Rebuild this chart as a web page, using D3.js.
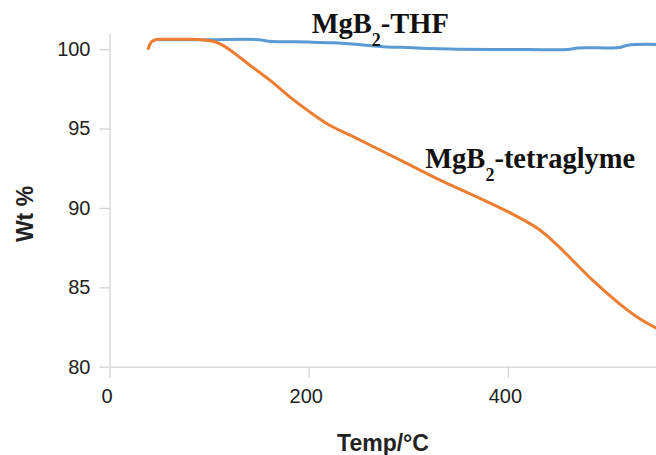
<!DOCTYPE html>
<html>
<head>
<meta charset="utf-8">
<script src="https://cdn.jsdelivr.net/npm/d3@7"></script>
<style>
  body { margin: 0; background: #fff; }
  .axis path, .axis line { stroke: #d4d4d4; stroke-width: 1.3px; }
  .axis text { font-family: "Liberation Sans", Arial, sans-serif; font-size: 20px; fill: #222; }
  .title { font-family: "Liberation Sans", Arial, sans-serif; font-size: 23px; font-weight: bold; fill: #222; }
  .note { font-family: "Liberation Serif", "Times New Roman", serif; font-size: 28.5px; font-weight: bold; fill: #111; }
</style>
</head>
<body>
<div id="chart"></div>
<script>
// TGA curves (temperature in °C, weight in %)
const thfTemp = [50, 60, 100, 150, 160, 200, 225, 250, 275, 300, 320, 350, 382, 420, 460, 470, 500, 512, 520, 549];
const thfWt   = [100.6, 100.6, 100.6, 100.6, 100.5, 100.45, 100.4, 100.3, 100.15, 100.1, 100.05, 100.0, 99.98, 99.98, 99.98, 100.08, 100.08, 100.1, 100.25, 100.3];

const tglTemp = [39, 42, 47, 60, 80, 95, 105, 113, 121, 141, 161, 181, 201, 221, 241, 262, 292, 332, 372, 405, 430, 448, 465, 485, 510, 530, 549];
const tglWt   = [100.04, 100.45, 100.61, 100.62, 100.62, 100.58, 100.48, 100.27, 99.95, 98.99, 98.05, 97.0, 96.05, 95.21, 94.6, 93.95, 93.01, 91.75, 90.6, 89.6, 88.7, 87.75, 86.7, 85.45, 84.07, 83.12, 82.43];

const xTicks = [0, 200, 400];
const yTicks = [80, 85, 90, 95, 100];

const notes = [
  { pre: "MgB", sub: "2", post: "-THF", t: 203, w: 101.0 },
  { pre: "MgB", sub: "2", post: "-tetraglyme", t: 317, w: 92.49 }
];

const width = 656, height = 455;
const plotLeft = 109.5, plotTop = 33.3, plotBottom = 366.7;

const svg = d3.select("#chart").append("svg")
  .attr("width", width).attr("height", height);

const x = d3.scaleLinear().domain([0, 549]).range([plotLeft, plotLeft + 549 * 0.996]);
const y = d3.scaleLinear().domain([80, 101]).range([plotBottom, plotTop]);

svg.append("defs").append("clipPath").attr("id", "plot")
  .append("rect").attr("x", plotLeft).attr("y", 0).attr("width", width - plotLeft).attr("height", plotBottom);

// axes
svg.append("g").attr("class", "axis")
  .attr("transform", `translate(0,${plotBottom})`)
  .call(d3.axisBottom(x).tickValues(xTicks).tickSize(11).tickSizeOuter(0).tickPadding(11))
  .call(g => g.selectAll("text").attr("dx", "-3"));

svg.append("g").attr("class", "axis")
  .attr("transform", `translate(${plotLeft},0)`)
  .call(d3.axisLeft(y).tickValues(yTicks).tickSize(10).tickSizeOuter(0).tickPadding(9));

// curves
const line = d3.line().curve(d3.curveCatmullRom.alpha(0.5))
  .x(d => x(d[0])).y(d => y(d[1]));

const series = [
  { t: thfTemp, w: thfWt, color: "#5b9bd5" },
  { t: tglTemp, w: tglWt, color: "#ed7d31" }
];

svg.append("g").attr("clip-path", "url(#plot)")
  .selectAll("path").data(series).join("path")
  .attr("fill", "none")
  .attr("stroke", d => d.color)
  .attr("stroke-width", 3)
  .attr("stroke-linecap", "round")
  .attr("d", d => line(d.t.map((v, i) => [v, d.w[i]])));

// labels on the curves
const txt = svg.selectAll("text.note").data(notes).join("text")
  .attr("class", "note")
  .attr("x", d => x(d.t)).attr("y", d => y(d.w));
txt.append("tspan").text(d => d.pre);
txt.append("tspan").attr("dy", 13).attr("font-size", 18).text(d => d.sub);
txt.append("tspan").attr("dy", -13).text(d => d.post);

// axis titles
svg.append("text").attr("class", "title")
  .attr("x", 383).attr("y", 451).attr("text-anchor", "middle")
  .text("Temp/°C");

svg.append("text").attr("class", "title")
  .attr("transform", "translate(33,214) rotate(-90)")
  .attr("text-anchor", "middle")
  .text("Wt %");
</script>
</body>
</html>
